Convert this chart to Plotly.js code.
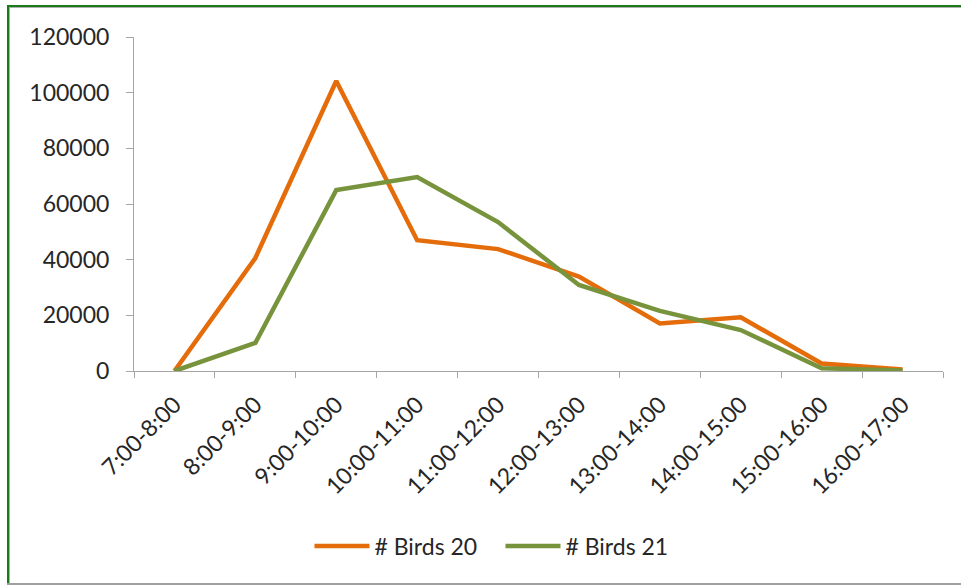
<!DOCTYPE html>
<html>
<head>
<meta charset="utf-8">
<script src="https://cdn.plot.ly/plotly-3.0.1.min.js"></script>
<style>
  html, body { margin: 0; padding: 0; background: #fff; }
  #wrap { position: relative; width: 961px; height: 586px; overflow: hidden; }
  #chart { position: absolute; left: 0; top: 0; width: 961px; height: 586px; }
  .bl { position: absolute; left: 7px; top: 5px; width: 2px; height: 580px; background: #1a7a1a; }
  .bl2 { position: absolute; left: 9px; top: 7px; width: 1px; height: 578px; background: #b0b0b0; }
  .bt { position: absolute; left: 7px; top: 5px; width: 954px; height: 2px; background: #1a7a1a; }
  .bt2 { position: absolute; left: 9px; top: 7px; width: 952px; height: 1px; background: #b0b0b0; }
  .bb { position: absolute; left: 7px; top: 583px; width: 954px; height: 2px; background: #a0a0a0; }
</style>
</head>
<body>
<div id="wrap">
  <div id="chart"></div>
  <div class="bl"></div><div class="bl2"></div>
  <div class="bt"></div><div class="bt2"></div>
  <div class="bb"></div>
</div>
<script>
const categories = ["7:00-8:00","8:00-9:00","9:00-10:00","10:00-11:00","11:00-12:00","12:00-13:00","13:00-14:00","14:00-15:00","15:00-16:00","16:00-17:00"];
const birds20 = [0, 40600, 104200, 47000, 43800, 33900, 17100, 19300, 2700, 500];
const birds21 = [0, 10100, 65000, 69700, 53500, 30900, 21600, 14700, 1000, 200];
const seriesNames = ["# Birds 20", "# Birds 21"];
const yTicks = [0, 20000, 40000, 60000, 80000, 100000, 120000];

const fontFam = "Lato, 'Open Sans', sans-serif";

const traces = [
  { x: categories, y: birds20, name: seriesNames[0], type: "scatter", mode: "lines",
    line: { color: "#E46C0A", width: 4.5 } },
  { x: categories, y: birds21, name: seriesNames[1], type: "scatter", mode: "lines",
    line: { color: "#77933C", width: 4.5 } }
];

const layout = {
  width: 961, height: 586,
  paper_bgcolor: "#ffffff", plot_bgcolor: "#ffffff",
  margin: { l: 134, r: 18, t: 37, b: 215 },
  font: { family: fontFam, size: 23, color: "#262626" },
  showlegend: true,
  legend: { orientation: "h", x: 0.453, xanchor: "center", y: -0.524, yanchor: "middle",
            font: { family: fontFam, size: 23, color: "#262626" }, itemwidth: 55,
            entrywidth: 121, tracegroupgap: 0 },
  xaxis: {
    type: "category", range: [-0.5, categories.length - 0.5], tickson: "boundaries",
    showgrid: false, zeroline: false,
    showline: true, linecolor: "#a6a6a6", linewidth: 1,
    ticks: "outside", ticklen: 6, tickcolor: "#a6a6a6", ticklabelstandoff: 10,
    tickangle: -45, tickfont: { family: fontFam, size: 23, color: "#262626" },
    fixedrange: true
  },
  yaxis: {
    range: [0, 120000], tickvals: yTicks, ticktext: yTicks.map(String),
    showgrid: false, zeroline: false, showline: true, linecolor: "#a6a6a6", linewidth: 1,
    ticks: "outside", ticklen: 7, tickcolor: "#a6a6a6", ticklabelstandoff: 12,
    tickfont: { family: fontFam, size: 23, color: "#262626" }, fixedrange: true
  }
};

Plotly.newPlot("chart", traces, layout, { displayModeBar: false, staticPlot: true });
</script>
</body>
</html>
